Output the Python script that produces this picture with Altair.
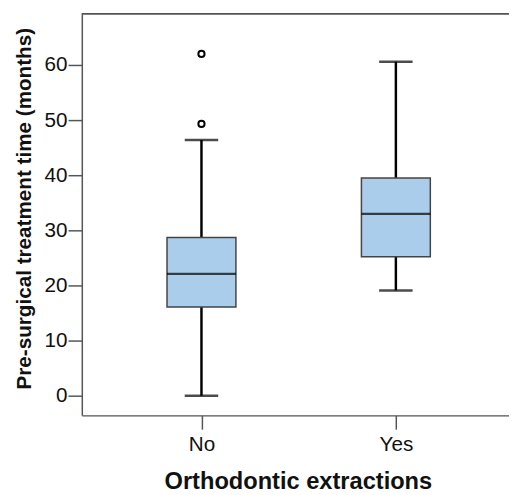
import altair as alt
import pandas as pd

# ---- data ----
groups = ["No", "Yes"]
lower_whisker = [0.0, 19.1]
q1 = [16.1, 25.2]
median = [22.1, 33.0]
q3 = [28.7, 39.5]
upper_whisker = [46.4, 60.6]

outlier_groups = ["No", "No"]
outlier_values = [49.3, 62.0]

y_ticks = [0, 10, 20, 30, 40, 50, 60]
y_domain = [-3.57, 69.29]

FONT = "Liberation Sans"
FRAME = "#555555"
FILL = "#aacdec"

stats = pd.DataFrame({
    "group": groups,
    "lo": lower_whisker,
    "q1": q1,
    "med": median,
    "q3": q3,
    "hi": upper_whisker,
})
outliers = pd.DataFrame({"group": outlier_groups, "value": outlier_values})

W, H = 434, 408

xscale = alt.Scale(type="point", domain=groups, padding=0.5987, align=0.514)
yscale = alt.Scale(domain=y_domain, nice=False, zero=False)

xaxis = alt.Axis(
    title="Orthodontic extractions",
    titleFont=FONT, titleFontSize=24, titleFontWeight="bold", titleColor="#111111",
    titleX=219.5, titleY=74, titleBaseline="alphabetic", titleAlign="center",
    labelFont=FONT, labelFontSize=21, labelColor="#111111", labelAngle=0,
    labelBaseline="alphabetic", labelPadding=22,
    tickSize=14, tickColor=FRAME, tickWidth=1.5,
    domainColor=FRAME, domainWidth=1.5, grid=False,
)
yaxis = alt.Axis(
    title="Pre-surgical treatment time (months)",
    titleFont=FONT, titleFontSize=21, titleFontWeight="bold", titleColor="#111111",
    titleX=-52, titleY=197.5, titleAngle=270, titleBaseline="alphabetic", titleAlign="center",
    values=y_ticks, labelFont=FONT, labelFontSize=21, labelColor="#111111", labelPadding=1,
    tickSize=14, tickColor=FRAME, tickWidth=1.5,
    domainColor=FRAME, domainWidth=1.5, grid=False,
)

base = alt.Chart(stats)

whisker = base.mark_rule(color="black", strokeWidth=2.5).encode(
    x=alt.X("group:N", scale=xscale, axis=xaxis),
    y=alt.Y("lo:Q", scale=yscale, axis=yaxis),
    y2="hi:Q",
)
cap_lo = base.mark_tick(color="black", size=34, thickness=2.5, orient="horizontal").encode(
    x=alt.X("group:N", scale=xscale), y=alt.Y("lo:Q", scale=yscale)
)
cap_hi = base.mark_tick(color="black", size=34, thickness=2.5, orient="horizontal").encode(
    x=alt.X("group:N", scale=xscale), y=alt.Y("hi:Q", scale=yscale)
)
box = base.mark_bar(size=70, fill=FILL, stroke="#444444", strokeWidth=1.5).encode(
    x=alt.X("group:N", scale=xscale), y=alt.Y("q1:Q", scale=yscale), y2="q3:Q"
)
med = base.mark_tick(color="black", size=70, thickness=2.2, orient="horizontal").encode(
    x=alt.X("group:N", scale=xscale), y=alt.Y("med:Q", scale=yscale)
)
pts = alt.Chart(outliers).mark_point(
    shape="circle", filled=False, color="black", strokeWidth=2, size=40, opacity=1
).encode(x=alt.X("group:N", scale=xscale), y=alt.Y("value:Q", scale=yscale))

top_line = alt.Chart(stats).mark_rule(color=FRAME, strokeWidth=1.5).encode(
    x=alt.value(0), x2=alt.value(W), y=alt.value(0)
)

chart = alt.layer(top_line, whisker, cap_lo, cap_hi, box, med, pts).properties(
    width=W, height=H,
    autosize=alt.AutoSizeParams(type="none"),
    padding={"left": 75, "top": 2, "right": 0, "bottom": 76},
).configure_view(strokeWidth=0)

chart.save("out.html", embed_options={"renderer": "svg", "actions": False})
